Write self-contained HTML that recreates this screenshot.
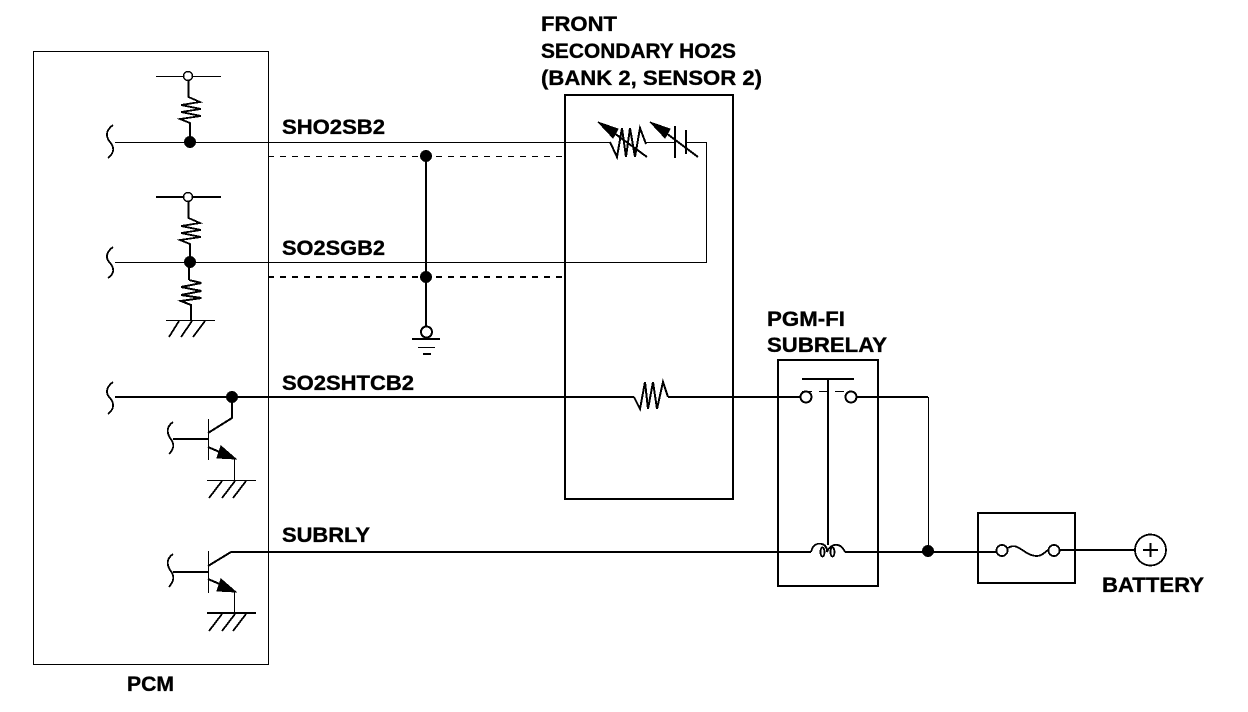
<!DOCTYPE html>
<html><head><meta charset="utf-8"><style>
html,body{margin:0;padding:0;background:#fff;width:1248px;height:712px;overflow:hidden}
svg{display:block;shape-rendering:crispEdges}
text{font-family:"Liberation Sans",sans-serif;font-weight:bold;font-size:21.5px;fill:#000;stroke:#000;stroke-width:.35}
.a{fill:none;stroke:#000;stroke-width:1.1}
.c{fill:none;stroke:#000;stroke-width:1.8}
.b{fill:none;stroke:#000;stroke-width:2}
.o{fill:#fff;stroke:#000;stroke-width:2}
</style></head><body>
<svg width="1248" height="712" viewBox="0 0 1248 712" xmlns="http://www.w3.org/2000/svg">
<!-- boxes -->
<rect class="a" x="33.5" y="51.5" width="235" height="613"/>
<rect class="b" x="565" y="95" width="168" height="404"/>
<rect class="b" x="778" y="360" width="100" height="226"/>
<rect class="b" x="978" y="513" width="97" height="70"/>
<!-- main wires -->
<path class="a" d="M115 142.5H610M646 142.5H675M686 142.5H706.5V262.5H115"/>
<path class="b" d="M115 397H634M668 397H800M857 397H928"/>
<path class="a" d="M928.5 397V551"/>
<path class="b" d="M208 566L231 552H811M845 552H1000M1060 550H1135"/>
<!-- dashed -->
<path class="a" stroke-dasharray="6 6" d="M268 156.5H564"/>
<path class="b" stroke-dasharray="6 6" d="M268 277H564"/>
<!-- vertical junction -->
<path class="b" d="M426 156V327"/>
<circle cx="426" cy="156" r="6"/><circle cx="426" cy="277" r="6"/>
<circle class="o" cx="426.500" cy="332" r="5.500"/>
<path class="b" d="M412 339H440M423 354H431"/><path class="a" d="M418 347.500H435"/>
<!-- top pull-up -->
<path class="a" d="M156 76.500H221"/>
<path class="c" d="M188.500 80V97L200 102 181 105 201 109 181 112 201 116 180 119 190 123V142"/>
<circle class="o" cx="188" cy="76" r="4.500" style="stroke-width:1.500"/>
<circle cx="190" cy="142" r="6"/>
<path class="c" d="M113 125C105 131 106 137 110 142C115 148 114 153 108 158"/>
<!-- second -->
<path class="b" d="M156 197H221"/>
<path class="c" d="M188.500 201V218L200 223 181 226 201 230 181 233 201 237 180 240 190 244V262"/>
<circle class="o" cx="188" cy="197" r="4.500" style="stroke-width:1.500"/>
<path class="b" d="M189 262V280"/>
<path class="b" d="M189 280L201.500 283 181 287 201.500 291 181 295 201.500 298 181 301 191 305V320"/>
<circle cx="190" cy="262" r="6"/>
<path class="c" d="M113 247C105 253 106 259 110 263C115 269 114 274 108 278"/>
<path class="a" d="M166 320.500H215"/>
<path class="c" d="M179 321L169 337M192 321L181 337M205 321L193 337"/>
<!-- transistor 1 -->
<path class="c" d="M113 382C105 388 106 394 110 398C115 404 114 409 108 414"/>
<circle cx="232" cy="397" r="6"/>
<path class="b" d="M232 397V418L208 433M173 439H208"/>
<path class="a" d="M208.500 419V460"/>
<path class="c" d="M173 422C166 427 167 433 170 438C175 444 174 449 169 454"/>
<path class="b" d="M208 447L222 453"/>
<polygon points="236,459 221,446 217,458" stroke="#000"/>
<path class="a" d="M234.500 459V480M207 480.500H256"/>
<path class="c" d="M222 481L209 498M235 481L222 498M246 481L233 498"/>
<!-- transistor 2 -->
<path class="b" d="M173 572H208"/>
<path class="a" d="M208.500 551V593"/>
<path class="c" d="M173 554C166 559 167 565 170 570C175 576 174 581 169 587"/>
<path class="b" d="M208 579L222 585"/>
<polygon points="236,592 221,579 217,591" stroke="#000"/>
<path class="a" d="M234.500 592V612"/>
<path class="b" d="M207 613H256"/>
<path class="c" d="M222 614L209 631M235 614L222 631M246 614L233 631"/>
<!-- sensor symbols -->
<path class="b" d="M610 142L617 157 622 128 626 157 630 128 635 157 640 128 646 144"/>
<path class="b" d="M610 130L647 157M662 130L698 157"/>
<polygon points="598,122 613,138 618,129" stroke="#000"/><polygon points="650,122 665,138 670,129" stroke="#000"/>
<path class="b" d="M675 126V158M686 130V154"/>
<!-- heater resistor -->
<path class="b" d="M634 397L640 409 645 382 648 409 653 382 657 409 663 382 668 397"/>
<!-- relay -->
<path class="b" d="M802 379H854M828 379V545"/>
<path class="a" d="M802 391.500H812M819 391.500H827M835 391.500H844"/>
<circle class="o" cx="806" cy="397" r="5.500"/><circle class="o" cx="851" cy="397" r="5.500"/>
<path class="c" d="M811 552C813 544 818 543 822 544C826 545 827 549 827 552C830 544 840 541 845 552"/>
<ellipse class="c" cx="822.500" cy="552" rx="2" ry="4.500"/><ellipse class="c" cx="832.500" cy="552" rx="2" ry="4.500"/>
<circle cx="928" cy="551" r="6"/>
<!-- fuse & battery -->
<circle class="c" cx="1002" cy="550.500" r="5.500" style="fill:#fff"/>
<circle class="c" cx="1054" cy="550.500" r="5.500" style="fill:#fff"/>
<path class="c" d="M1008 548C1018 541 1024 556 1037 556C1042 556 1045 552 1048 550"/>
<circle class="c" cx="1150.500" cy="550" r="15.500" style="fill:#fff"/>
<path class="c" d="M1143 550H1158M1150.500 543V557"/>
<!-- text -->
<text x="541" y="31" textLength="76" lengthAdjust="spacingAndGlyphs">FRONT</text>
<text x="541" y="58" textLength="195" lengthAdjust="spacingAndGlyphs">SECONDARY HO2S</text>
<text x="541" y="85" textLength="221" lengthAdjust="spacingAndGlyphs">(BANK 2, SENSOR 2)</text>
<text x="282" y="134" textLength="103" lengthAdjust="spacingAndGlyphs">SHO2SB2</text>
<text x="282" y="255" textLength="103" lengthAdjust="spacingAndGlyphs">SO2SGB2</text>
<text x="282" y="390" textLength="132" lengthAdjust="spacingAndGlyphs">SO2SHTCB2</text>
<text x="282" y="542" textLength="88" lengthAdjust="spacingAndGlyphs">SUBRLY</text>
<text x="767" y="326" textLength="78" lengthAdjust="spacingAndGlyphs">PGM-FI</text>
<text x="767" y="352" textLength="120" lengthAdjust="spacingAndGlyphs">SUBRELAY</text>
<text x="1102" y="592" textLength="102" lengthAdjust="spacingAndGlyphs">BATTERY</text>
<text x="127" y="691" textLength="47" lengthAdjust="spacingAndGlyphs">PCM</text>
</svg>
</body></html>
